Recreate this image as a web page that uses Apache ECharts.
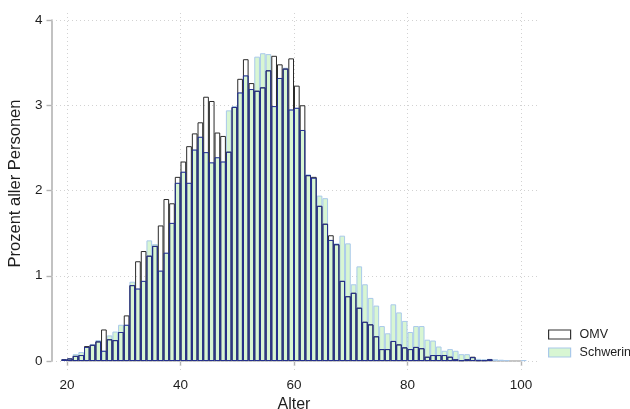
<!DOCTYPE html>
<html>
<head>
<meta charset="utf-8">
<script src="https://cdn.jsdelivr.net/npm/echarts@6/dist/echarts.min.js"></script>
<style>html,body{margin:0;padding:0;background:#fff}#c{width:630px;height:409px}</style>
</head>
<body>
<div id="c"></div>
<script>
// ---- data ----
const ages = [19,20,21,22,23,24,25,26,27,28,29,30,31,32,33,34,35,36,37,38,39,40,41,42,43,44,45,46,47,48,49,50,51,52,53,54,55,56,57,58,59,60,61,62,63,64,65,66,67,68,69,70,71,72,73,74,75,76,77,78,79,80,81,82,83,84,85,86,87,88,89,90,91,92,93,94,95,96,97,98,99,100];
const omv = [0.02,0.03,0.06,0.07,0.175,0.19,0.23,0.37,0.255,0.245,0.34,0.535,0.89,1.17,1.29,1.235,1.35,1.59,1.90,1.85,2.16,2.34,2.52,2.67,2.80,3.10,3.05,2.68,2.64,2.455,2.98,3.31,3.54,3.26,3.17,3.21,3.41,3.58,3.48,3.43,3.55,3.23,3.00,2.18,2.16,1.82,1.61,1.475,1.37,0.94,0.76,0.80,0.625,0.46,0.43,0.29,0.14,0.14,0.235,0.195,0.16,0.14,0.165,0.15,0.05,0.07,0.07,0.07,0.05,0.02,0.01,0.02,0.05,0.01,0.01,0.02,0,0,0,0,0,0];
const schwerin = [0.02,0.03,0.08,0.105,0.165,0.20,0.245,0.12,0.30,0.345,0.425,0.425,0.93,0.85,0.94,1.415,1.37,1.06,1.27,1.62,2.09,2.22,2.09,2.48,2.63,2.45,2.33,2.39,2.34,2.94,2.99,3.15,3.35,3.19,3.57,3.61,3.60,2.99,3.32,3.44,2.95,2.97,2.71,2.19,2.15,1.94,1.91,1.42,1.38,1.47,1.38,0.90,1.11,0.90,0.74,0.65,0.41,0.325,0.665,0.57,0.47,0.34,0.41,0.41,0.25,0.24,0.17,0.12,0.14,0.12,0.08,0.08,0.045,0.025,0.02,0.025,0.02,0.015,0.01,0,0,0.01];
const xTicks = [20,40,60,80,100];
const yTicks = [0,1,2,3,4];
const seriesNames = ['OMV','Schwerin'];

// ---- layout (pixels) ----
const W = 630, H = 409;
const plotL = 52, plotR = 537, plotT = 12, plotB = 370;   // dotted plot region
const axL = 67, axR = 521, axT = 20, axB = 361;           // where 20..100 and 0..4 fall
const xA = 20, xB = 100, yA = 0, yB = 4;
const pxX = (axR - axL) / (xB - xA);
const pxY = (axB - axT) / (yB - yA);
const xMin = xA - (axL - plotL) / pxX, xMax = xB + (plotR - axR) / pxX;
const yMin = yA - (plotB - axB) / pxY, yMax = yB + (axT - plotT) / pxY;

const font = 'Liberation Sans, Arial, Helvetica, sans-serif';
const txt = '#1e1e1e';
const axisCol = '#b3b3b3';

const pts = a => ages.map((g, i) => [g + 0.5, a[i] > 0 ? a[i] : null]);
const overlap = omv.map((v, i) => Math.min(v, schwerin[i]));

const chart = echarts.init(document.getElementById('c'), null, {renderer: 'canvas'});
const barW = pxX;
chart.setOption({
  backgroundColor: '#fff',
  animation: false,
  textStyle: {fontFamily: font},
  grid: [
    {left: plotL, right: W - plotR, top: plotT, bottom: H - plotB, containLabel: false, outerBoundsMode: 'none'},
    {left: axL, right: W - axR, top: axT, bottom: H - axB, containLabel: false, outerBoundsMode: 'none'}
  ],
  xAxis: [
    {gridIndex: 0, type: 'value', min: xMin, max: xMax, show: false, splitLine: {show: false}},
    {gridIndex: 1, type: 'value', min: xA, max: xB, interval: 20, offset: plotB - axB,
     axisLine: {show: true, lineStyle: {color: axisCol, width: 1.6}},
     axisTick: {show: true, length: 5, lineStyle: {color: axisCol, width: 1.4}},
     axisLabel: {fontSize: 13.5, color: txt, margin: 8, fontFamily: font},
     splitLine: {show: false},
     name: 'Alter', nameLocation: 'middle', nameGap: 25,
     nameTextStyle: {fontSize: 16, color: txt, fontFamily: font}}
  ],
  yAxis: [
    {gridIndex: 0, type: 'value', min: yMin, max: yMax, show: false, splitLine: {show: false}},
    {gridIndex: 1, type: 'value', min: yA, max: yB, interval: 1, offset: axL - plotL + 0.5,
     axisLine: {show: true, lineStyle: {color: axisCol, width: 1.6}},
     axisTick: {show: true, length: 5, lineStyle: {color: axisCol, width: 1.4}},
     axisLabel: {fontSize: 13.5, color: txt, margin: 9, fontFamily: font},
     splitLine: {show: false},
     name: 'Prozent aller Personen', nameLocation: 'middle', nameGap: 25,
     nameTextStyle: {fontSize: 16.5, color: txt, fontFamily: font, padding: [0, 0, 0, 14]}}
  ],
  legend: {
    orient: 'vertical', left: 548, top: 327.5, itemWidth: 22, itemHeight: 9, itemGap: 4,
    padding: 0,
    textStyle: {fontSize: 12.5, color: txt, fontFamily: font, lineHeight: 14, padding: [0, 0, 0, 4]},
    data: [
      {name: seriesNames[0], icon: 'rect', itemStyle: {color: '#fff', borderColor: '#333', borderWidth: 1.2}},
      {name: seriesNames[1], icon: 'rect', itemStyle: {color: '#d8f6d3', borderColor: '#a9c9ea', borderWidth: 1.2}}
    ]
  },
  series: [
    {name: seriesNames[1], type: 'bar', xAxisIndex: 0, yAxisIndex: 0, z: 2,
     data: pts(schwerin), barWidth: barW, barGap: '-100%',
     itemStyle: {color: '#d8f6d3', borderColor: '#a9c9ea', borderWidth: 1},
     markLine: {silent: true, symbol: ['none','none'], z: 1, label: {show: false},
       lineStyle: {color: '#d2d2d2', type: [1, 3], width: 1},
       data: xTicks.map(v => ({xAxis: v})).concat(yTicks.map(v => ({yAxis: v})))}},
    {name: seriesNames[0], type: 'bar', xAxisIndex: 0, yAxisIndex: 0, z: 3,
     data: pts(omv), barWidth: barW, barGap: '-100%',
     itemStyle: {color: 'rgba(0,0,0,0)', borderColor: '#2a2a2a', borderWidth: 1}},
    {name: 'overlap', type: 'bar', xAxisIndex: 0, yAxisIndex: 0, z: 4,
     data: pts(overlap), barWidth: barW, barGap: '-100%',
     itemStyle: {color: 'rgba(0,0,0,0)', borderColor: '#25308f', borderWidth: 1}}
  ]
});
</script>
</body>
</html>
